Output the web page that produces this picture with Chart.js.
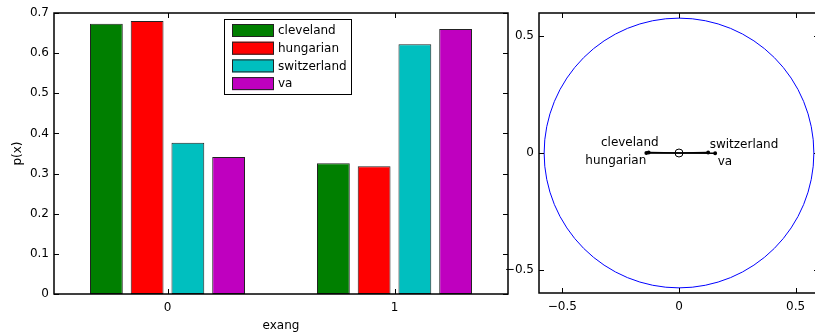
<!DOCTYPE html>
<html>
<head>
<meta charset="utf-8">
<script src="https://cdn.jsdelivr.net/npm/chart.js@4"></script>
<style>
  html, body { margin: 0; padding: 0; background: #fff; overflow: hidden; width: 815px; height: 334px; }
  #barWrap { position: absolute; left: 0; top: 0; }
  #circleWrap { position: absolute; left: 500px; top: 0; }
</style>
</head>
<body>
<div id="barWrap"><canvas id="bars" width="520" height="334"></canvas></div>
<div id="circleWrap"><canvas id="circle" width="335" height="334"></canvas></div>
<script>
// bar chart data
const categories = ['0', '1'];
const seriesNames = ['cleveland', 'hungarian', 'switzerland', 'va'];
const cleveland = [0.673, 0.326];
const hungarian = [0.680, 0.318];
const switzerland = [0.377, 0.622];
const va = [0.341, 0.660];
const seriesColors = ['#007f00', '#ff0000', '#00bfbf', '#bf00bf'];

// circle plot data
const vectorX = [-0.13, -0.14, 0.125, 0.155];
const vectorY = [0.002, 0, 0.002, -0.001];
const circleRadius = 0.578;
const circleTicks = [-0.5, 0, 0.5];

Chart.defaults.font.family = 'DejaVu Sans';
Chart.defaults.font.size = 12;
Chart.defaults.color = '#000';
Chart.defaults.animation = false;

const TICK_LEN = 5;

// matlab style box with ticks pointing inward
const boxPlugin = {
  id: 'box',
  afterDatasetsDraw(chart) {
    const { ctx, chartArea: a, scales } = chart;
    ctx.save();
    ctx.strokeStyle = '#000';
    ctx.lineWidth = 1;
    ctx.beginPath();
    scales.x.ticks.forEach((t, i) => {
      const px = Math.round(scales.x.getPixelForTick(i)) + 0.5;
      ctx.moveTo(px, a.bottom); ctx.lineTo(px, a.bottom - TICK_LEN);
      ctx.moveTo(px, a.top); ctx.lineTo(px, a.top + TICK_LEN);
    });
    scales.y.ticks.forEach((t, i) => {
      const py = Math.round(scales.y.getPixelForTick(i)) + 0.5;
      ctx.moveTo(a.left, py); ctx.lineTo(a.left + TICK_LEN, py);
      ctx.moveTo(a.right, py); ctx.lineTo(a.right - TICK_LEN, py);
    });
    ctx.stroke();
    ctx.lineWidth = 1.5;
    ctx.strokeRect(Math.round(a.left), Math.round(a.top), Math.round(a.right - a.left), Math.round(a.bottom - a.top));
    ctx.restore();
  }
};

// legend box drawn inside the plot area
const legendPlugin = {
  id: 'innerLegend',
  afterDraw(chart) {
    const { ctx, chartArea: a } = chart;
    const x = a.left + 170, y = a.top + 6, w = 127, h = 75;
    ctx.save();
    ctx.fillStyle = '#fff';
    ctx.fillRect(x, y, w, h);
    ctx.strokeStyle = '#000';
    ctx.lineWidth = 1;
    ctx.strokeRect(x + 0.5, y + 0.5, w, h);
    ctx.font = '12px "DejaVu Sans"';
    ctx.textBaseline = 'middle';
    chart.data.datasets.forEach((ds, i) => {
      const ry = y + 5 + i * 17.7;
      ctx.fillStyle = ds.backgroundColor;
      ctx.fillRect(x + 8, ry, 42, 13);
      ctx.strokeStyle = '#222';
      ctx.strokeRect(x + 8.5, ry + 0.5, 41, 12);
      ctx.fillStyle = '#000';
      ctx.fillText(ds.label, x + 54, ry + 7);
    });
    ctx.restore();
  }
};

new Chart(document.getElementById('bars'), {
  type: 'bar',
  data: {
    labels: categories,
    datasets: [cleveland, hungarian, switzerland, va].map((vals, i) => ({
      label: seriesNames[i],
      data: vals,
      backgroundColor: seriesColors[i],
      borderColor: '#222',
      borderWidth: 1,
      borderSkipped: false,
      barPercentage: 0.805,
      categoryPercentage: 0.718
    }))
  },
  options: {
    responsive: false,
    devicePixelRatio: 1,
    layout: { padding: { top: 13, right: 12, left: 0, bottom: 0 } },
    plugins: { legend: { display: false }, tooltip: { enabled: false } },
    scales: {
      x: {
        grid: { display: false, drawTicks: false },
        border: { display: false },
        ticks: { padding: 7 },
        title: { display: true, text: 'exang', padding: { top: 0, bottom: 1 } },
        afterFit(scale) { scale.height = 40; }
      },
      y: {
        min: 0,
        max: 0.7,
        grid: { display: false, drawTicks: false },
        border: { display: false },
        ticks: { stepSize: 0.1, padding: 5, callback: v => String(Number(v.toFixed(1))) },
        title: { display: true, text: 'p(x)', padding: { top: 11, bottom: 0 } },
        afterFit(scale) { scale.width = 54; }
      }
    }
  },
  plugins: [boxPlugin, legendPlugin]
});

// circle and vector labels
const labelStyle = [
  { align: 'right', dx: 10, dy: -7 },
  { align: 'right', dx: 0, dy: 11 },
  { align: 'left', dx: 1.5, dy: -4.5 },
  { align: 'left', dx: 2.5, dy: 11.5 }
];

const circlePlugin = {
  id: 'circleDraw',
  beforeDatasetsDraw(chart) {
    const { ctx, scales: { x, y } } = chart;
    const cx = x.getPixelForValue(0), cy = y.getPixelForValue(0);
    const rx = x.getPixelForValue(circleRadius) - cx;
    const ry = cy - y.getPixelForValue(circleRadius);
    ctx.save();
    ctx.strokeStyle = '#0000ff';
    ctx.lineWidth = 1;
    ctx.beginPath();
    ctx.ellipse(cx, cy, rx, ry, 0, 0, Math.PI * 2);
    ctx.stroke();
    ctx.restore();
  },
  afterDatasetsDraw(chart) {
    const { ctx, scales: { x, y } } = chart;
    ctx.save();
    ctx.font = '12px "DejaVu Sans"';
    ctx.fillStyle = '#000';
    ctx.textBaseline = 'alphabetic';
    seriesNames.forEach((name, i) => {
      const s = labelStyle[i];
      ctx.textAlign = s.align;
      ctx.fillText(name, x.getPixelForValue(vectorX[i]) + s.dx, y.getPixelForValue(vectorY[i]) + s.dy);
    });
    ctx.restore();
  }
};

const fmt = v => (v < 0 ? '\u2212' + Math.abs(v) : String(v));

new Chart(document.getElementById('circle'), {
  type: 'scatter',
  data: {
    datasets: [
      ...seriesNames.map((name, i) => ({
        label: name,
        data: [{ x: 0, y: 0 }, { x: vectorX[i], y: vectorY[i] }],
        showLine: true,
        borderColor: '#000',
        backgroundColor: '#000',
        borderWidth: 1.5,
        pointRadius: [0, 1.2]
      })),
      {
        label: 'origin',
        data: [{ x: 0, y: 0 }],
        pointRadius: 4,
        pointBorderColor: '#000',
        pointBackgroundColor: 'rgba(0,0,0,0)',
        pointBorderWidth: 1
      }
    ]
  },
  options: {
    responsive: false,
    devicePixelRatio: 1,
    layout: { padding: { top: 13, right: 16, left: 0, bottom: 0 } },
    plugins: { legend: { display: false }, tooltip: { enabled: false } },
    scales: {
      x: {
        type: 'linear',
        min: -0.6,
        max: 0.6,
        grid: { display: false, drawTicks: false },
        border: { display: false },
        afterBuildTicks(scale) { scale.ticks = circleTicks.map(v => ({ value: v })); },
        ticks: { padding: 7, callback: fmt },
        afterFit(scale) { scale.height = 41; }
      },
      y: {
        type: 'linear',
        min: -0.6,
        max: 0.6,
        grid: { display: false, drawTicks: false },
        border: { display: false },
        afterBuildTicks(scale) { scale.ticks = circleTicks.map(v => ({ value: v })); },
        ticks: { padding: 5, callback: fmt },
        afterFit(scale) { scale.width = 39; }
      }
    }
  },
  plugins: [circlePlugin, boxPlugin]
});
</script>
</body>
</html>
